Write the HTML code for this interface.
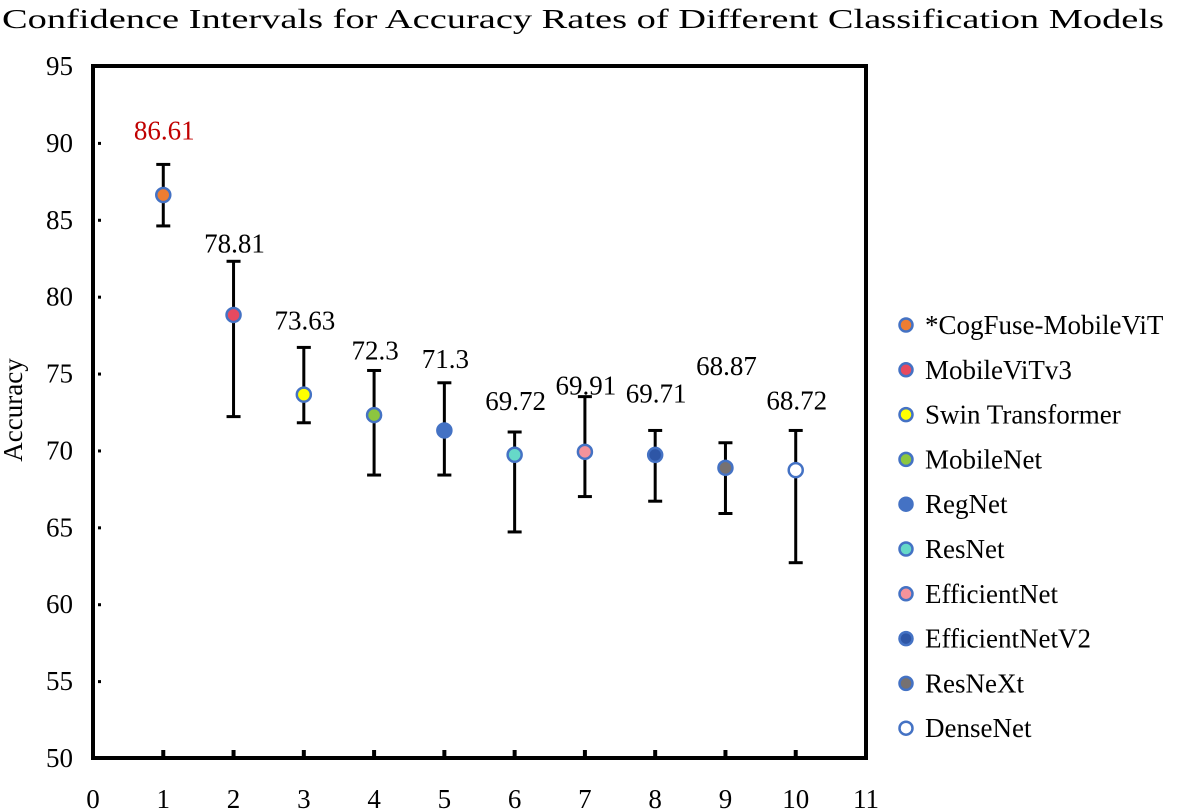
<!DOCTYPE html>
<html><head><meta charset="utf-8">
<style>
html,body{margin:0;padding:0;background:#fff;}
svg{display:block;font-family:"Liberation Serif",serif;}
</style></head>
<body>
<svg id="chart" width="1181" height="809" viewBox="0 0 1181 809" xmlns="http://www.w3.org/2000/svg">
<text x="2" y="28" font-size="27" textLength="1162" lengthAdjust="spacingAndGlyphs" fill="#000">Confidence Intervals for Accuracy Rates of Different Classification Models</text>
<text transform="translate(22,410) rotate(-90)" font-size="27" text-anchor="middle" fill="#000">Accuracy</text>
<g id="plot"></g>
<g id="legend"></g>
</svg>
<script>
const categories = [1,2,3,4,5,6,7,8,9,10];
const models = ["*CogFuse-MobileViT","MobileViTv3","Swin Transformer","MobileNet","RegNet","ResNet","EfficientNet","EfficientNetV2","ResNeXt","DenseNet"];
const means = [86.61,78.81,73.63,72.3,71.3,69.72,69.91,69.71,68.87,68.72];
const upper = [88.6,82.3,76.7,75.2,74.4,71.2,73.5,71.3,70.5,71.3];
const lower = [84.6,72.2,71.8,68.4,68.4,64.7,67.0,66.7,65.9,62.7];
const valueLabels = ["86.61","78.81","73.63","72.3","71.3","69.72","69.91","69.71","68.87","68.72"];
const colors = ["#ED7D31","#E84A5F","#FFFF00","#8CC63F","#4472C4","#66D9C8","#F4939B","#2E56A6","#767171","#FFFFFF"];
const xTicks = [0,1,2,3,4,5,6,7,8,9,10,11];
const yTicks = [50,55,60,65,70,75,80,85,90,95];
const labelGap = [25,9,18,11,15,22,2,28,68,21];

const NS="http://www.w3.org/2000/svg";
const L=93,R=866,T=66,B=758;
const xS=v=>L+(v-0)/(11-0)*(R-L);
const yS=v=>B-(v-50)/(95-50)*(B-T);
function mk(tag,attrs,parent){const e=document.createElementNS(NS,tag);for(const k in attrs)e.setAttribute(k,attrs[k]);parent.appendChild(e);return e;}
const plot=document.getElementById('plot');
const legend=document.getElementById('legend');

const frame=mk('rect',{x:L,y:T,width:R-L,height:B-T,fill:'none',stroke:'#000','stroke-width':4},plot);



yTicks.forEach(v=>{
  const t=mk('text',{x:73,y:yS(v)+9,'font-size':27,'text-anchor':'end',fill:'#000'},plot);
  t.textContent=v;
  
  
  if(v>50&&v<95){
    const d=mk('rect',{x:L+5,y:yS(v)-1,width:3,height:3,fill:'#000'},plot);
    
    
  }
});
xTicks.forEach(v=>{
  const t=mk('text',{x:xS(v),y:808,'font-size':27,'text-anchor':'middle',fill:'#000'},plot);
  t.textContent=v;
  
  
  if(v>0&&v<11){
    const tk=mk('line',{x1:xS(v),x2:xS(v),y1:B,y2:B-8,stroke:'#000','stroke-width':4},plot);
    
    
  }
});

categories.forEach((c,i)=>{
  const x=xS(c);
  const g=mk('g',{},plot);
  
  
  mk('line',{x1:x,x2:x,y1:yS(upper[i]),y2:yS(lower[i]),stroke:'#000','stroke-width':3},g);
  mk('line',{x1:x-7,x2:x+7,y1:yS(upper[i]),y2:yS(upper[i]),stroke:'#000','stroke-width':3},g);
  mk('line',{x1:x-7,x2:x+7,y1:yS(lower[i]),y2:yS(lower[i]),stroke:'#000','stroke-width':3},g);
  const p=mk('circle',{cx:x,cy:yS(means[i]),r:7,fill:colors[i],stroke:'#4472C4','stroke-width':2.5},plot);
  
  
  const lb=mk('text',{x:x+1,y:yS(upper[i])-labelGap[i],'font-size':27,'text-anchor':'middle',fill:i===0?'#C00000':'#000'},plot);
  lb.textContent=valueLabels[i];
  
  
});

models.forEach((m,i)=>{
  const y=325+i*44.8;
  const g=mk('g',{},legend);
  
  
  mk('circle',{cx:906,cy:y,r:6.5,fill:colors[i],stroke:'#4472C4','stroke-width':2.5},g);
  const t=mk('text',{x:925,y:y+9,'font-size':27,fill:'#000'},g);
  t.textContent=m;
});
</script>
</body></html>
